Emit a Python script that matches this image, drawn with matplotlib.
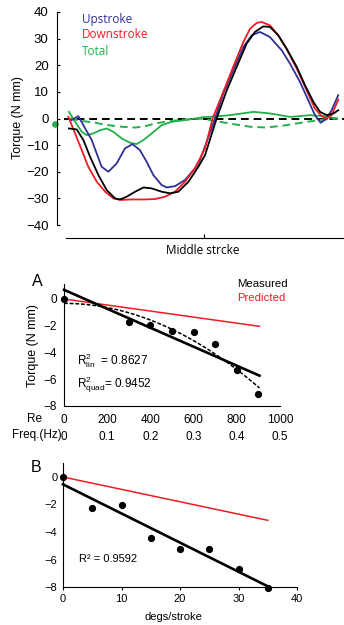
import numpy as np
import matplotlib
matplotlib.use("Agg")
import matplotlib.pyplot as plt

plt.rcParams["font.family"] = ["Liberation Sans", "DejaVu Sans"]
plt.rcParams["mathtext.fontset"] = "custom"
plt.rcParams["mathtext.rm"] = "Liberation Sans"
plt.rcParams["mathtext.it"] = "Liberation Sans:italic"

# ---- top panel: torque over one stroke (phase 0..1) ----
up_x = [0.006, 0.031, 0.081, 0.118, 0.143, 0.174, 0.205, 0.233, 0.261, 0.286, 0.311,
        0.342, 0.361, 0.392, 0.429, 0.466, 0.485, 0.510, 0.541, 0.572, 0.609, 0.647,
        0.678, 0.709, 0.746, 0.790, 0.821, 0.858, 0.889, 0.914, 0.935, 0.958, 0.976, 1.001]
up_y = [-0.6, 0.9, -8.1, -18.1, -20.0, -16.9, -11.25, -9.6, -11.9, -16.25, -21.25,
        -25.0, -25.9, -25.4, -23.1, -18.75, -15.6, -8.75, 0.0, 9.4, 18.1, 26.9,
        31.25, 32.5, 30.6, 25.6, 20.6, 13.75, 6.9, 1.25, -1.6, 0.0, 3.1, 8.75]

down_x = [-0.006, 0.019, 0.044, 0.068, 0.100, 0.131, 0.162, 0.187, 0.230, 0.280, 0.317,
          0.354, 0.392, 0.429, 0.466, 0.504, 0.532, 0.572, 0.609, 0.647, 0.672, 0.697,
          0.715, 0.746, 0.777, 0.808, 0.846, 0.883, 0.914, 0.939, 0.958, 0.976, 1.001]
down_y = [0.6, -5.6, -11.9, -18.1, -23.75, -27.5, -30.0, -30.6, -30.4, -30.4, -30.25,
          -29.4, -27.5, -23.75, -18.75, -11.25, 0.0, 10.0, 19.4, 28.75, 33.75, 35.9,
          36.25, 35.0, 31.25, 26.25, 18.75, 10.6, 3.75, 0.9, 0.0, 1.25, 7.1]

meas_x = [-0.004, 0.025, 0.050, 0.075, 0.106, 0.137, 0.168, 0.187, 0.211, 0.243, 0.274,
          0.305, 0.342, 0.373, 0.404, 0.442, 0.479, 0.504, 0.547, 0.585, 0.622, 0.659,
          0.690, 0.721, 0.746, 0.777, 0.808, 0.846, 0.877, 0.908, 0.933, 0.958, 0.983, 1.001]
meas_y = [-3.75, -4.1, -8.1, -14.4, -21.25, -26.9, -30.0, -30.4, -29.4, -27.5, -25.9,
          -26.25, -27.5, -28.1, -27.5, -23.75, -18.1, -13.75, 0.0, 10.6, 19.4, 28.1,
          32.5, 34.6, 34.4, 31.25, 26.25, 19.4, 12.5, 6.25, 2.5, 1.25, 1.9, 3.1]

tot_x = [-0.004, 0.019, 0.044, 0.062, 0.087, 0.112, 0.137, 0.162, 0.193, 0.224, 0.249,
         0.274, 0.305, 0.342, 0.379, 0.429, 0.466, 0.504, 0.522, 0.597, 0.684, 0.746,
         0.821, 0.896, 0.945, 0.995]
tot_y = [2.5, -1.25, -5.0, -6.25, -5.6, -4.4, -3.75, -5.0, -7.5, -9.1, -9.6,
         -8.1, -5.6, -2.5, -1.25, -0.6, 0.0, 0.6, 0.6, 1.25, 2.5, 1.9,
         0.6, 1.25, 0.9, 0.0]

totd_x = [0.0, 0.044, 0.093, 0.143, 0.193, 0.243, 0.280, 0.317, 0.354, 0.404, 0.454,
          0.504, 0.522, 0.597, 0.672, 0.734, 0.808, 0.883, 0.945, 1.001]
totd_y = [0.0, -0.9, -1.6, -2.5, -3.1, -3.4, -2.9, -1.9, -1.25, -0.6, -0.25,
          0.0, -0.6, -1.9, -3.1, -3.4, -2.5, -1.25, -0.4, 0.0]

dot_x, dot_y = -0.056, -2.0

# ---- panel A: torque vs Re ----
re = [0, 300, 400, 500, 600, 700, 800, 900]
torque_a = [0, -1.7, -1.95, -2.4, -2.5, -3.37, -5.3, -7.15]
re_ticks = [0, 200, 400, 600, 800, 1000]
freq_ticks = ["0", "0.1", "0.2", "0.3", "0.4", "0.5"]
pred_a_x = [0, 905]
pred_a_y = [0, -2.05]

# ---- panel B: torque vs degs/stroke ----
degs = [0, 5, 10, 15, 20, 25, 30, 35]
torque_b = [0, -2.25, -2.06, -4.41, -5.21, -5.26, -6.7, -8.05]
pred_b_x = [0, 35]
pred_b_y = [0, -3.15]

W, H = 344, 625
fig = plt.figure(figsize=(W / 100, H / 100), dpi=100)

BLUE = "#2e3192"
RED = "#ed1c24"
GREEN = "#22b04b"


def box(l, t, r, b):
    return [l / W, 1 - b / H, (r - l) / W, (b - t) / H]


# top panel
ax = fig.add_axes(box(57, 12, 344, 225))
ax.set_xlim(-0.0485, 1.0224)
ax.set_ylim(-40, 40)
ax.axhline(0, xmin=0.025, xmax=1, color="k", lw=1.4, ls=(0, (4, 2.5)))
ax.plot(totd_x, totd_y, color=GREEN, lw=1.4, ls=(0, (4, 2.5)))
ax.plot(tot_x, tot_y, color=GREEN, lw=1.3)
ax.plot(up_x, up_y, color=BLUE, lw=1.3)
ax.plot(down_x, down_y, color=RED, lw=1.3)
ax.plot(meas_x, meas_y, color="k", lw=1.3)
ax.plot([dot_x], [dot_y], "o", color=GREEN, ms=3.8, clip_on=False)
for s in ["top", "right"]:
    ax.spines[s].set_visible(False)
ax.spines["left"].set_bounds(-40, 40)
ax.spines["bottom"].set_position(("outward", 9.4))
ax.spines["bottom"].set_bounds(-0.015, 1.0224)
ax.set_yticks([40, 30, 20, 10, 0, -10, -20, -30, -40])
ax.set_xticks([0.5])
ax.set_xticklabels([""])
ax.tick_params(axis="y", direction="in", length=2.5, pad=6, labelsize=9.5)
ax.tick_params(axis="x", direction="in", length=3)
ax.text(0.045, 37, "Upstroke", color=BLUE, fontsize=8.5, va="center",
        family=["Open Sans", "DejaVu Sans"])
ax.text(0.045, 31.5, "Downstroke", color=RED, fontsize=8.5, va="center",
        family=["Open Sans", "DejaVu Sans"])
ax.text(0.045, 25.3, "Total", color=GREEN, fontsize=8.5, va="center",
        family=["Open Sans", "DejaVu Sans"])
fig.text(18 / W, 1 - 118 / H, "Torque (N mm)", rotation=90, ha="center", va="center",
         fontsize=9)
fig.text(203 / W, 1 - 250 / H, "Middle strcke", ha="center", va="center", fontsize=8.5,
         family=["Open Sans", "DejaVu Sans"])

# panel A
axa = fig.add_axes(box(64, 284.3, 280, 405.7))
axa.set_xlim(0, 1000)
axa.set_ylim(-8, 1.1)
lin = np.polyfit(re, torque_a, 1)
quad = np.polyfit(re, torque_a, 2)
xs = np.linspace(0, 905, 100)
axa.plot(pred_a_x, pred_a_y, color=RED, lw=1.1, clip_on=False)
axa.plot(xs, np.polyval(quad, xs), color="k", lw=1.1, ls=(0, (2.5, 1.2)), clip_on=False)
axa.plot(xs, np.polyval(lin, xs), color="k", lw=1.9, clip_on=False)
axa.plot(re, torque_a, "o", color="k", ms=4.2, clip_on=False)
for s in ["top", "right"]:
    axa.spines[s].set_visible(False)
axa.spines["left"].set_bounds(-8, 1.1)
axa.set_yticks([0, -2, -4, -6, -8])
axa.set_xticks(re_ticks)
axa.set_xticklabels([f"{r}\n{f}" for r, f in zip(re_ticks, freq_ticks)], linespacing=1.5)
axa.tick_params(axis="y", length=0, pad=5, labelsize=8.5)
axa.tick_params(axis="x", length=0, pad=6, labelsize=8.5)
axa.text(60, -4.6, "R$^{2}_{\\mathrm{lin}}$  = 0.8627", fontsize=8.5, va="center")
axa.text(60, -6.4, "R$^{2}_{\\mathrm{quad}}$= 0.9452", fontsize=8.5, va="center")
axa.text(802, 1.1, "Measured", color="k", fontsize=8.2, va="center")
axa.text(802, 0.05, "Predicted", color=RED, fontsize=8.2, va="center")
fig.text(37 / W, 1 - 282 / H, "A", ha="center", va="center", fontsize=11.5)
fig.text(33 / W, 1 - 346 / H, "Torque (N mm)", rotation=90, ha="center", va="center",
         fontsize=9)
fig.text(27 / W, 1 - 419 / H, "Re", ha="left", va="center", fontsize=8.5)
fig.text(12 / W, 1 - 435 / H, "Freq.(Hz)", ha="left", va="center", fontsize=8.5)

# panel B
axb = fig.add_axes(box(63, 463.25, 297, 587))
axb.set_xlim(0, 40)
axb.set_ylim(-8, 1.0)
fit_b = np.polyfit(degs, torque_b, 1)
xb = np.array([0, 35])
axb.plot(pred_b_x, pred_b_y, color=RED, lw=1.1, clip_on=False)
axb.plot(xb, np.polyval(fit_b, xb), color="k", lw=1.9, clip_on=False)
axb.plot(degs, torque_b, "o", color="k", ms=4.2, clip_on=False)
for s in ["top", "right"]:
    axb.spines[s].set_visible(False)
axb.set_yticks([0, -2, -4, -6, -8])
axb.set_xticks([0, 10, 20, 30, 40])
axb.tick_params(axis="y", length=0, pad=4, labelsize=8)
axb.tick_params(axis="x", length=2, pad=3, labelsize=8)
axb.text(2.7, -6.0, "R² = 0.9592", fontsize=8, va="center")
fig.text(36 / W, 1 - 467 / H, "B", ha="center", va="center", fontsize=11.5)
fig.text(173 / W, 1 - 617 / H, "degs/stroke", ha="center", va="center", fontsize=8)

fig.savefig("out.png", dpi=100)
